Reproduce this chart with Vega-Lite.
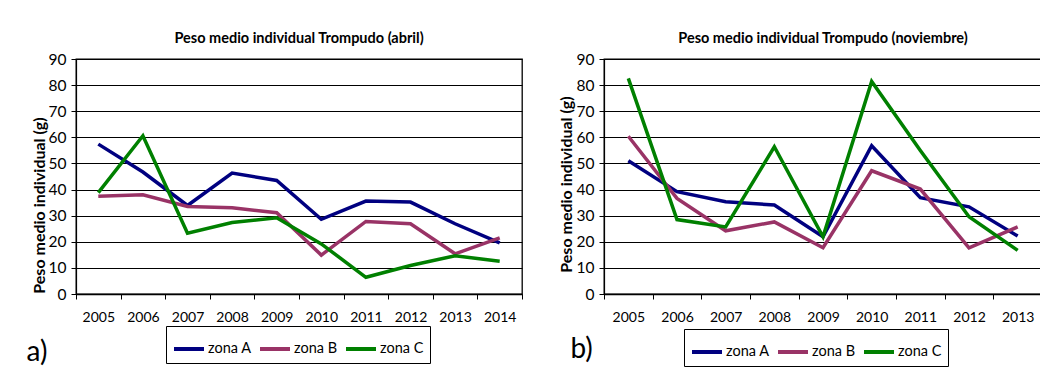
{
  "$schema": "https://vega.github.io/schema/vega-lite/v6.json",
  "background": "white",
  "padding": {"left": 25, "top": 29, "right": 0, "bottom": 0},
  "spacing": 82,
  "bounds": "flush",
  "config": {
    "view": {"stroke": "black", "strokeWidth": 1.3},
    "font": "Lato",
    "axis": {
      "domainColor": "black", "tickColor": "black", "gridColor": "black", "gridOpacity": 1,
      "labelColor": "black", "titleColor": "black", "labelFont": "Lato", "titleFont": "Lato"
    },
    "axisX": {"grid": false, "labelAngle": 0, "tickBand": "extent", "labelFontSize": 14, "tickSize": 5, "labelPadding": 11, "domainWidth": 1.5,
      "titleFontSize": 28, "titleFontWeight": "normal", "titleAlign": "left", "titleBaseline": "alphabetic", "titleAnchor": "start"},
    "axisY": {"grid": true, "labelFontSize": 15.5, "tickSize": 5, "labelPadding": 5, "domainWidth": 1.2,
      "titleFontSize": 16, "titleFontWeight": "bold", "titleAngle": 270, "titleAlign": "center", "titleBaseline": "middle"},
    "legend": {
      "orient": "none", "direction": "horizontal", "title": null,
      "strokeColor": "black", "fillColor": "white", "padding": 6,
      "symbolType": "stroke", "symbolSize": 900, "symbolStrokeWidth": 4,
      "labelFont": "Lato", "labelFontSize": 14.5, "labelColor": "black", "labelOffset": 2, "columnPadding": 0
    },
    "title": {"font": "Lato", "fontSize": 14.5, "fontWeight": "bold", "color": "black", "offset": 6, "anchor": "middle"}
  },
  "datasets": {
    "abril": [
      {"year": "2005", "zona": "zona A", "peso": 57.4},
      {"year": "2006", "zona": "zona A", "peso": 46.7},
      {"year": "2007", "zona": "zona A", "peso": 33.9},
      {"year": "2008", "zona": "zona A", "peso": 46.3},
      {"year": "2009", "zona": "zona A", "peso": 43.5},
      {"year": "2010", "zona": "zona A", "peso": 28.6},
      {"year": "2011", "zona": "zona A", "peso": 35.6},
      {"year": "2012", "zona": "zona A", "peso": 35.2},
      {"year": "2013", "zona": "zona A", "peso": 26.9},
      {"year": "2014", "zona": "zona A", "peso": 19.6},
      {"year": "2005", "zona": "zona B", "peso": 37.4},
      {"year": "2006", "zona": "zona B", "peso": 38.0},
      {"year": "2007", "zona": "zona B", "peso": 33.5},
      {"year": "2008", "zona": "zona B", "peso": 33.0},
      {"year": "2009", "zona": "zona B", "peso": 31.1},
      {"year": "2010", "zona": "zona B", "peso": 14.9},
      {"year": "2011", "zona": "zona B", "peso": 27.8},
      {"year": "2012", "zona": "zona B", "peso": 26.9},
      {"year": "2013", "zona": "zona B", "peso": 15.4},
      {"year": "2014", "zona": "zona B", "peso": 21.5},
      {"year": "2005", "zona": "zona C", "peso": 38.8},
      {"year": "2006", "zona": "zona C", "peso": 60.6},
      {"year": "2007", "zona": "zona C", "peso": 23.3},
      {"year": "2008", "zona": "zona C", "peso": 27.4},
      {"year": "2009", "zona": "zona C", "peso": 29.2},
      {"year": "2010", "zona": "zona C", "peso": 19.2},
      {"year": "2011", "zona": "zona C", "peso": 6.4},
      {"year": "2012", "zona": "zona C", "peso": 10.9},
      {"year": "2013", "zona": "zona C", "peso": 14.6},
      {"year": "2014", "zona": "zona C", "peso": 12.5}
    ],
    "noviembre": [
      {"year": "2005", "zona": "zona A", "peso": 51.0},
      {"year": "2006", "zona": "zona A", "peso": 39.2},
      {"year": "2007", "zona": "zona A", "peso": 35.3},
      {"year": "2008", "zona": "zona A", "peso": 34.1},
      {"year": "2009", "zona": "zona A", "peso": 21.9},
      {"year": "2010", "zona": "zona A", "peso": 56.8},
      {"year": "2011", "zona": "zona A", "peso": 36.9},
      {"year": "2012", "zona": "zona A", "peso": 33.4},
      {"year": "2013", "zona": "zona A", "peso": 22.2},
      {"year": "2005", "zona": "zona B", "peso": 60.4},
      {"year": "2006", "zona": "zona B", "peso": 36.6},
      {"year": "2007", "zona": "zona B", "peso": 24.2},
      {"year": "2008", "zona": "zona B", "peso": 27.6},
      {"year": "2009", "zona": "zona B", "peso": 17.7},
      {"year": "2010", "zona": "zona B", "peso": 47.2},
      {"year": "2011", "zona": "zona B", "peso": 40.2},
      {"year": "2012", "zona": "zona B", "peso": 17.7},
      {"year": "2013", "zona": "zona B", "peso": 25.7},
      {"year": "2005", "zona": "zona C", "peso": 82.6},
      {"year": "2006", "zona": "zona C", "peso": 28.5},
      {"year": "2007", "zona": "zona C", "peso": 25.7},
      {"year": "2008", "zona": "zona C", "peso": 56.4},
      {"year": "2009", "zona": "zona C", "peso": 21.9},
      {"year": "2010", "zona": "zona C", "peso": 81.4},
      {"year": "2011", "zona": "zona C", "peso": 55.0},
      {"year": "2012", "zona": "zona C", "peso": 29.6},
      {"year": "2013", "zona": "zona C", "peso": 16.7}
    ]
  },
  "resolve": {"scale": {"color": "independent"}, "legend": {"color": "independent"}},
  "hconcat": [
    {
      "width": 446, "height": 235,
      "title": {"text": "Peso medio individual Trompudo  (abril)"},
      "data": {"name": "abril"},
      "mark": {"type": "line", "strokeWidth": 3.5},
      "encoding": {
        "x": {"field": "year", "type": "ordinal", "bandPosition": 0.5,
          "scale": {"type": "band", "paddingInner": 0, "paddingOuter": 0},
          "axis": {"title": "a)", "titleX": -50, "titleY": 66}},
        "y": {"field": "peso", "type": "quantitative", "scale": {"domain": [0, 90], "nice": false},
          "axis": {"values": [0, 10, 20, 30, 40, 50, 60, 70, 80, 90], "title": "Peso medio individual  (g)", "titleX": -37, "titleY": 146}},
        "color": {"field": "zona", "type": "nominal",
          "scale": {"domain": ["zona A", "zona B", "zona C"], "range": ["#000080", "#993366", "#008000"]},
          "legend": {"legendX": 90, "legendY": 267}}
      }
    },
    {
      "width": 438, "height": 235,
      "title": {"text": "Peso medio individual Trompudo  (noviembre)"},
      "data": {"name": "noviembre"},
      "mark": {"type": "line", "strokeWidth": 3.5},
      "encoding": {
        "x": {"field": "year", "type": "ordinal", "bandPosition": 0.5,
          "scale": {"type": "band", "paddingInner": 0, "paddingOuter": 0},
          "axis": {"title": "b)", "titleX": -34, "titleY": 63}},
        "y": {"field": "peso", "type": "quantitative", "scale": {"domain": [0, 90], "nice": false},
          "axis": {"values": [0, 10, 20, 30, 40, 50, 60, 70, 80, 90], "title": "Peso medio individual (g)", "titleX": -38, "titleY": 125}},
        "color": {"field": "zona", "type": "nominal",
          "scale": {"domain": ["zona A", "zona B", "zona C"], "range": ["#000080", "#993366", "#008000"]},
          "legend": {"legendX": 80, "legendY": 270}}
      }
    }
  ]
}
